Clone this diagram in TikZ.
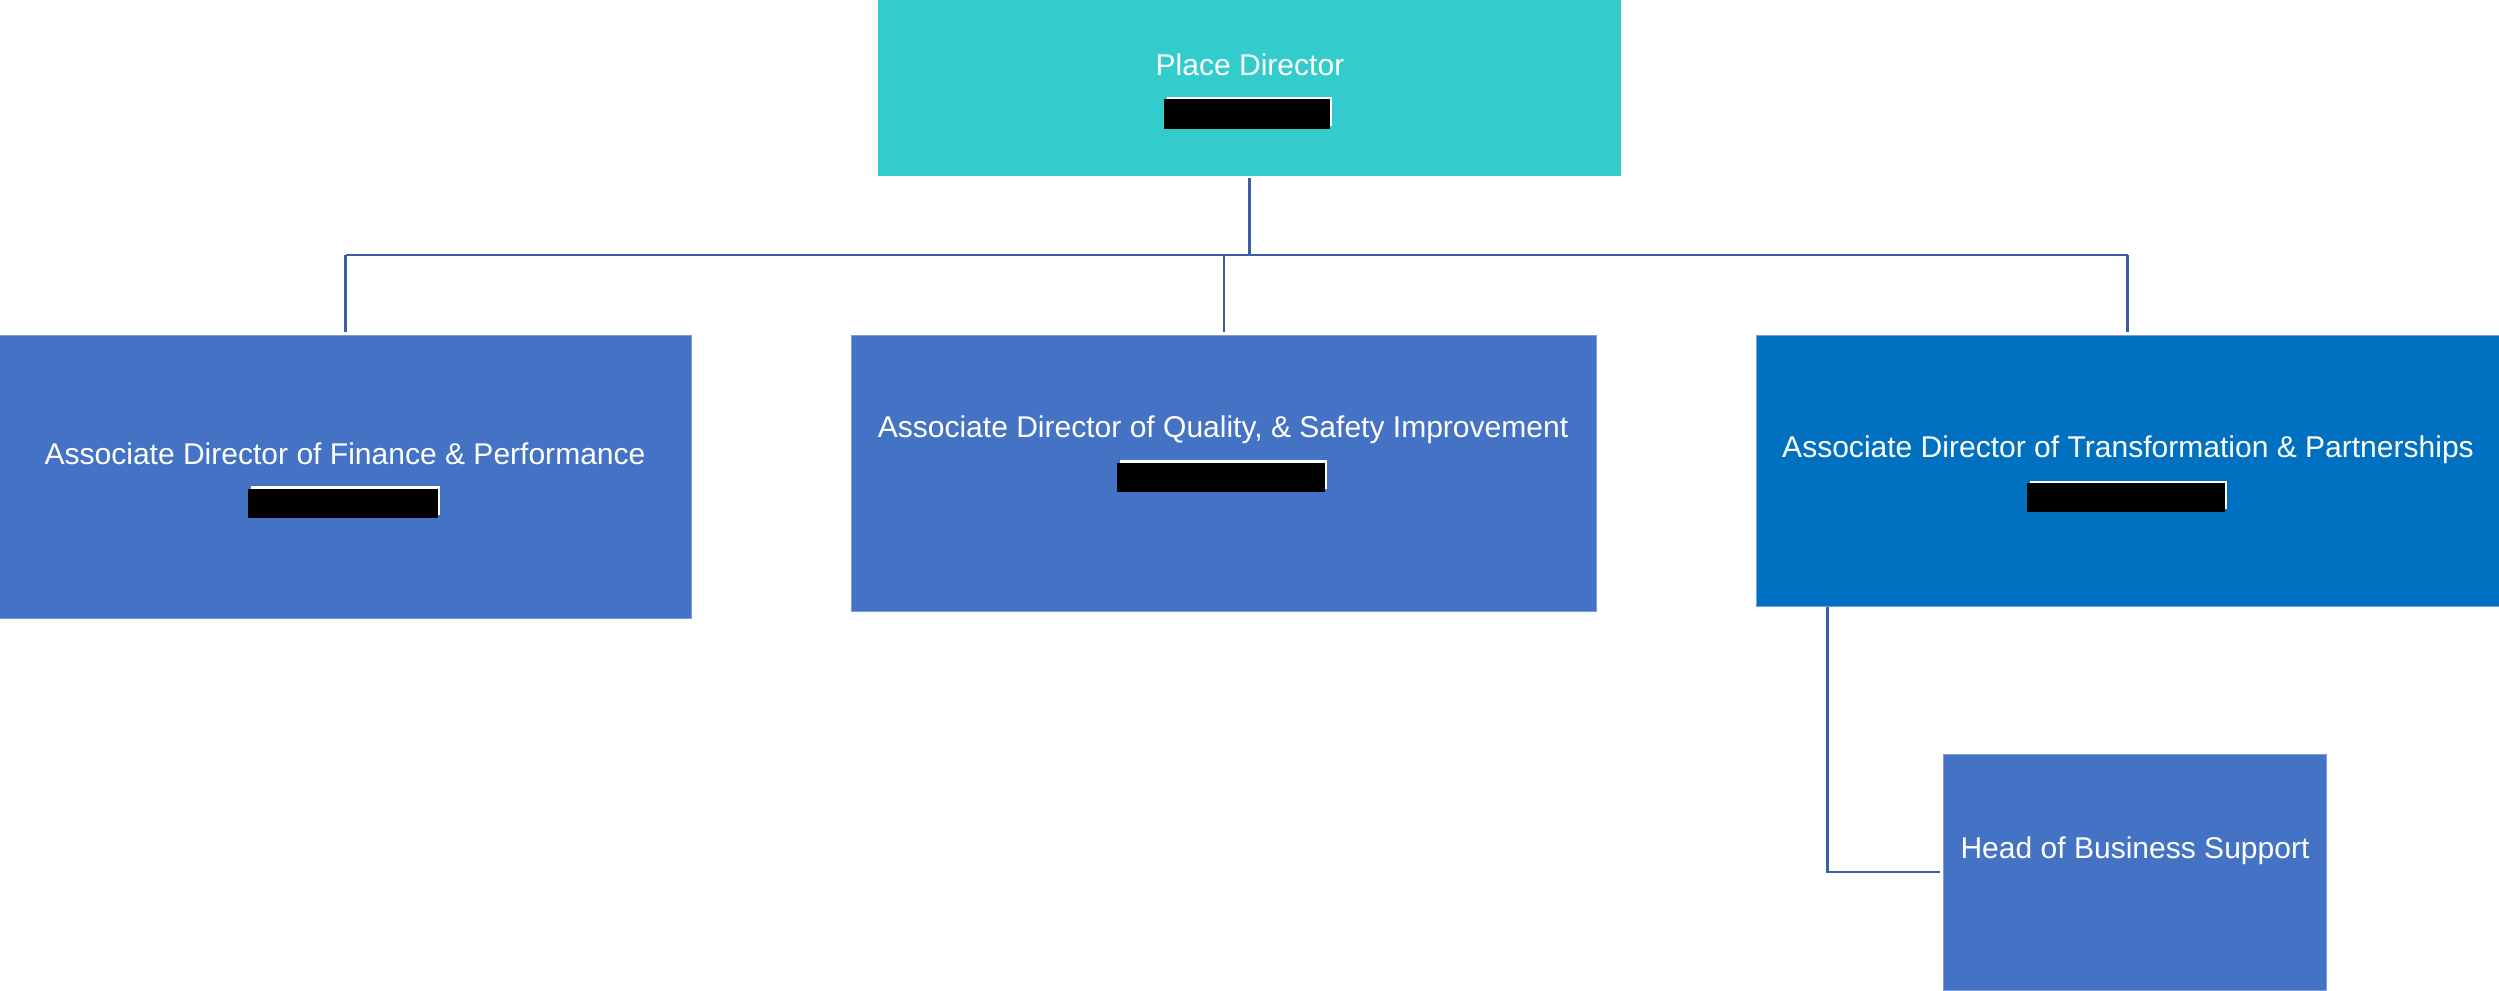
\documentclass[tikz,border=0pt]{standalone}
\usepackage{fontspec}
\setmainfont{Liberation Sans}
\definecolor{teal1}{HTML}{33CCCC}
\definecolor{blue1}{HTML}{4472C4}
\definecolor{blue2}{HTML}{0070C0}
\definecolor{edge1}{HTML}{7C9DDB}
\definecolor{conncol}{HTML}{3C5EAA}
\tikzset{
  box/.style={rectangle, inner sep=0pt, outer sep=0pt, line width=0.006cm},
  tealbox/.style={box, fill=teal1},
  bluebox/.style={box, fill=blue1, draw=edge1},
  darkbox/.style={box, fill=blue2, draw=edge1},
  lbl/.style={anchor=base, inner sep=0pt, text=white, font=\fontsize{8.54}{10}\selectfont},
  conn/.style={draw=conncol, line width=0.027cm},
}
\begin{document}
\begin{tikzpicture}[x=0.01cm, y=-0.01cm]
\useasboundingbox (0,0) rectangle (2499,990);
% boxes
\node[tealbox, minimum width=7.43cm, minimum height=1.755cm] (pd) at (1249.5,87.75) {};
\node[bluebox, minimum width=6.91cm, minimum height=2.83cm] (fin) at (345.5,476.5) {};
\node[bluebox, minimum width=7.44cm, minimum height=2.76cm] (qual) at (1224,473) {};
\node[darkbox, minimum width=7.43cm, minimum height=2.71cm] (trans) at (2127.5,470.5) {};
\node[bluebox, minimum width=3.83cm, minimum height=2.36cm] (hbs) at (2134.5,872) {};
% labels
\node[lbl] (pdt) at (1250,75) {Place Director};
\node[lbl] (fint) at (345,464) {Associate Director of Finance \& Performance};
\node[lbl] (qualt) at (1223,437) {Associate Director of Quality, \& Safety Improvement};
\node[lbl] (transt) at (2128,457) {Associate Director of Transformation \& Partnerships};
\node[lbl] (hbst) at (2135,858) {Head of Business Support};
% redaction bars
\fill[white] (1167,97) rectangle (1332,126);
\fill[black] (1164,99) rectangle (1330,129);
\fill[white] (251,486) rectangle (440,515);
\fill[black] (248,489) rectangle (438,518);
\fill[white] (1120,460) rectangle (1327,489);
\fill[black] (1117,463) rectangle (1325,492);
\fill[white] (2030,481) rectangle (2227,509);
\fill[black] (2027,483) rectangle (2225,512);
% connectors
\coordinate (busy) at (0,255);
\coordinate (bus) at (pd.south |- busy);
\draw[conn] ([yshift=-0.025cm]pd.south) -- (bus);
\draw[conn] (fin.north |- bus) -- (trans.north |- bus);
\draw[conn] (fin.north |- bus) -- ([yshift=0.03cm]fin.north);
\draw[conn] (qual.north |- bus) -- ([yshift=0.03cm]qual.north);
\draw[conn] (trans.north |- bus) -- ([yshift=0.03cm]trans.north);
\draw[conn] ([xshift=0.72cm,yshift=-0.01cm]trans.south west) |- ([xshift=-0.03cm]hbs.west);
\end{tikzpicture}
\end{document}
